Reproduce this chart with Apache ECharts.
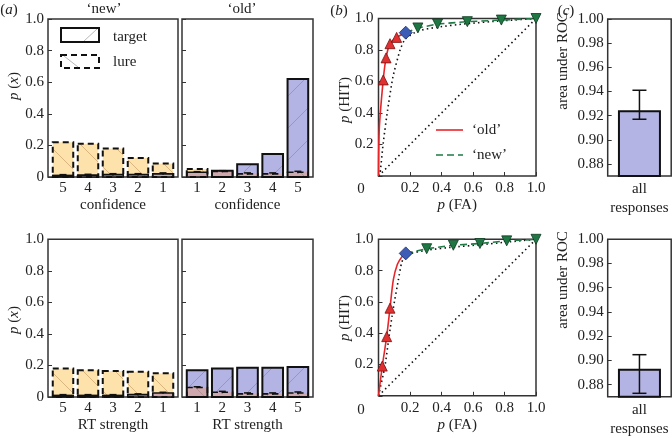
<!DOCTYPE html>
<html><head><meta charset="utf-8">
<script src="https://cdn.jsdelivr.net/npm/echarts@6.0.0/dist/echarts.min.js"></script>
<style>html,body{margin:0;padding:0;background:#fff}#c{width:672px;height:438px}</style>
</head><body><div id="c"></div>
<script>
// ---------------- data ----------------
const newCats = [5, 4, 3, 2, 1];
const oldCats = [1, 2, 3, 4, 5];
// confidence (top row)
const confNewLure   = [0.22, 0.21, 0.18, 0.12, 0.085];
const confNewTarget = [0.01, 0.012, 0.015, 0.015, 0.02];
const confNewErr    = [0.005, 0.005, 0.006, 0.006, 0.006];
const confOldTarget = [0.03, 0.04, 0.08, 0.145, 0.62];
const confOldLure   = [0.05, 0.035, 0.02, 0.02, 0.03];
const confOldErr    = [0.004, 0.005, 0.006, 0.006, 0.006];
// RT strength (bottom row)
const rtNewLure   = [0.18, 0.17, 0.165, 0.16, 0.15];
const rtNewTarget = [0.01, 0.01, 0.01, 0.015, 0.025];
const rtNewErr    = [0.005, 0.005, 0.005, 0.005, 0.005];
const rtOldTarget = [0.17, 0.18, 0.185, 0.185, 0.19];
const rtOldLure   = [0.06, 0.03, 0.02, 0.02, 0.025];
const rtOldErr    = [0.005, 0.006, 0.006, 0.006, 0.007];
// ROC top
const rocTopOldFA   = [0.03, 0.048, 0.073, 0.115];
const rocTopOldHit  = [0.61, 0.75, 0.84, 0.88];
const rocTopMid     = [0.173, 0.91];
const rocTopNewFA   = [0.25, 0.375, 0.564, 0.78, 1.0];
const rocTopNewHit  = [0.94, 0.965, 0.98, 0.99, 1.0];
const rocTopLineFA  = [0, 0.005, 0.03, 0.048, 0.073, 0.115, 0.173];
const rocTopLineHit = [0, 0.3, 0.61, 0.75, 0.84, 0.88, 0.91];
const rocTopModelFA  = [0, 0.01, 0.03, 0.058, 0.092, 0.137, 0.17, 0.25, 0.375, 0.56, 0.78, 1];
const rocTopModelHit = [0, 0.02, 0.21, 0.42, 0.63, 0.80, 0.87, 0.92, 0.945, 0.967, 0.985, 1];
// ROC bottom
const rocBotOldFA   = [0.024, 0.052, 0.073];
const rocBotOldHit  = [0.19, 0.378, 0.56];
const rocBotMid     = [0.173, 0.91];
const rocBotNewFA   = [0.306, 0.475, 0.644, 0.814, 1.0];
const rocBotNewHit  = [0.94, 0.962, 0.973, 0.99, 1.0];
const rocBotLineFA  = [0, 0.024, 0.052, 0.073, 0.094, 0.12, 0.15, 0.173];
const rocBotLineHit = [0, 0.19, 0.378, 0.56, 0.74, 0.84, 0.89, 0.91];
const rocBotModelFA  = [0, 0.041, 0.067, 0.094, 0.126, 0.147, 0.173, 0.306, 0.475, 0.644, 0.814, 1];
const rocBotModelHit = [0, 0.19, 0.38, 0.56, 0.74, 0.85, 0.90, 0.93, 0.95, 0.965, 0.982, 1];
const chanceFA  = [0, 1];
const chanceHit = [0, 1];
// AUC
const aucCats = ['all\nresponses'];
const aucTop = [0.9245], aucTopLow = [0.917], aucTopHigh = [0.941];
const aucBot = [0.8931], aucBotLow = [0.8728], aucBotHigh = [0.9047];
const pTicks = [0, 0.2, 0.4, 0.6, 0.8, 1.0];
const aucTicks = [0.88, 0.90, 0.92, 0.94, 0.96, 0.98, 1.00];

// ---------------- style ----------------
const FONT = 'Liberation Serif';
const TXT = '#222';
const PURPLE = '#b4b4e4', ORANGE = '#fde2ab', OVER = '#cfa8ad';
const PURPLE_H = '#8686bf', ORANGE_H = '#c9a46c', OVER_H = '#a5868e';
const zip = (a, b) => a.map((v, i) => [v, b[i]]);

function hatch(L, T, R, B, dir, color, s) {
  const out = [];
  if (R - L < 1 || B - T < 1) return out;
  if (dir === '/') {
    for (let k = Math.ceil((L + T) / s) * s; k <= R + B; k += s) {
      const x0 = Math.max(L, k - B), x1 = Math.min(R, k - T);
      if (x1 > x0 + 0.5) out.push({type: 'line', shape: {x1: x0, y1: k - x0, x2: x1, y2: k - x1}, style: {stroke: color, lineWidth: 0.7}});
    }
  } else {
    for (let k = Math.ceil((T - R) / s) * s; k <= B - L; k += s) {
      const x0 = Math.max(L, T - k), x1 = Math.min(R, B - k);
      if (x1 > x0 + 0.5) out.push({type: 'line', shape: {x1: x0, y1: x0 + k, x2: x1, y2: x1 + k}, style: {stroke: color, lineWidth: 0.7}});
    }
  }
  return out;
}

function pairRender(params, api) {
  const x = api.value(0), t = api.value(1), l = api.value(2), e = api.value(3);
  const base = api.coord([x, 0]);
  const bw = api.size([0.82, 0])[0];
  const L = base[0] - bw / 2, R = base[0] + bw / 2, B = base[1];
  const yT = api.coord([x, t])[1], yL = api.coord([x, l])[1];
  const tallTarget = t >= l;
  const yTall = Math.min(yT, yL), yShort = Math.max(yT, yL);
  const shortVal = Math.min(t, l);
  const ch = [];
  ch.push({type: 'rect', shape: {x: L, y: yTall, width: R - L, height: B - yTall}, style: {fill: tallTarget ? PURPLE : ORANGE}});
  ch.push(...hatch(L, yTall, R, B, tallTarget ? '/' : '\\', tallTarget ? PURPLE_H : ORANGE_H, 32));
  ch.push({type: 'rect', shape: {x: L, y: yShort, width: R - L, height: B - yShort}, style: {fill: OVER}});
  ch.push(...hatch(L, yShort, R, B, tallTarget ? '\\' : '/', OVER_H, 32));
  ch.push({type: 'rect', shape: {x: L, y: yTall, width: R - L, height: B - yTall}, style: {fill: null, stroke: '#111', lineWidth: 2, lineDash: tallTarget ? null : [6, 4]}});
  ch.push({type: 'rect', shape: {x: L, y: yShort, width: R - L, height: B - yShort}, style: {fill: null, stroke: '#111', lineWidth: 1.6, lineDash: tallTarget ? [6, 4] : null}});
  const eTop = api.coord([x, shortVal + e])[1], eBot = api.coord([x, Math.max(0, shortVal - e)])[1];
  const cx = base[0];
  ch.push({type: 'line', shape: {x1: cx, y1: eTop, x2: cx, y2: eBot}, style: {stroke: '#111', lineWidth: 1.5}});
  ch.push({type: 'line', shape: {x1: cx - 3.5, y1: eTop, x2: cx + 3.5, y2: eTop}, style: {stroke: '#111', lineWidth: 1.5}});
  return {type: 'group', children: ch};
}

function errRender(params, api) {
  const x = api.value(0);
  const top = api.coord([x, api.value(2)]), bot = api.coord([x, api.value(1)]);
  const cx = top[0], w = 7;
  const st = {stroke: '#111', lineWidth: 1.5};
  return {type: 'group', children: [
    {type: 'line', shape: {x1: cx, y1: top[1], x2: cx, y2: bot[1]}, style: st},
    {type: 'line', shape: {x1: cx - w, y1: top[1], x2: cx + w, y2: top[1]}, style: st},
    {type: 'line', shape: {x1: cx - w, y1: bot[1], x2: cx + w, y2: bot[1]}, style: st}
  ]};
}

const lbl = {fontFamily: FONT, fontSize: 15, color: TXT};
const richName = {i: {fontStyle: 'italic', fontFamily: FONT, fontSize: 15, color: TXT}};

const gridBase = {show: true, borderColor: '#333', borderWidth: 1.5, backgroundColor: 'transparent', containLabel: false, outerBoundsMode: 'none'};
const grids = [
  {left: 48, top: 19, width: 130, height: 158},
  {left: 182, top: 19, width: 131, height: 158},
  {left: 378.5, top: 18.5, width: 157.5, height: 157.5},
  {left: 607.7, top: 19, width: 63.5, height: 157},
  {left: 48, top: 239.3, width: 130, height: 157.7},
  {left: 182, top: 239.3, width: 131, height: 157.7},
  {left: 378.5, top: 239.3, width: 157.5, height: 156.5},
  {left: 607.7, top: 239.3, width: 63.5, height: 157.4}
].map(g => Object.assign({}, gridBase, g));

function barX(gi, inverse, name) {
  return {type: 'value', gridIndex: gi, min: 0.4, max: 5.6, inverse: inverse,
    axisLine: {show: false}, axisTick: {show: false}, splitLine: {show: false},
    axisLabel: Object.assign({customValues: [1, 2, 3, 4, 5], margin: 4}, lbl),
    name: name, nameLocation: 'middle', nameGap: 21, nameTextStyle: Object.assign({}, lbl)};
}
function barY(gi, showLabel) {
  return {type: 'value', gridIndex: gi, min: 0, max: 1, interval: 0.2,
    axisLine: {show: false}, splitLine: {show: false},
    axisTick: {show: true, inside: true, length: 4, lineStyle: {color: '#333', width: 1}},
    axisLabel: Object.assign({show: showLabel, margin: 4, formatter: v => v === 0 ? '0' : v.toFixed(1)}, lbl)};
}
function rocX(gi) {
  return {type: 'value', gridIndex: gi, min: 0, max: 1, interval: 0.2,
    axisLine: {show: false}, splitLine: {show: false},
    axisTick: {show: true, inside: true, length: 4, lineStyle: {color: '#333', width: 1}},
    axisLabel: Object.assign({margin: 5, formatter: v => v === 0 ? '' : v.toFixed(1)}, lbl),
    name: '{i|p} (FA)', nameLocation: 'middle', nameGap: 22, nameTextStyle: Object.assign({rich: richName}, lbl)};
}
function rocY(gi) {
  return {type: 'value', gridIndex: gi, min: 0, max: 1, interval: 0.2,
    axisLine: {show: false}, splitLine: {show: false},
    axisTick: {show: true, inside: true, length: 4, lineStyle: {color: '#333', width: 1}},
    axisLabel: Object.assign({margin: 5, formatter: v => v === 0 ? '' : v.toFixed(1)}, lbl)};
}
function aucX(gi) {
  return {type: 'category', gridIndex: gi, data: aucCats,
    axisLine: {show: false}, axisTick: {show: false}, splitLine: {show: false},
    axisLabel: Object.assign({margin: 4, lineHeight: 19}, lbl)};
}
function aucY(gi) {
  return {type: 'value', gridIndex: gi, min: 0.87, max: 1.0,
    axisLine: {show: false}, splitLine: {show: false},
    axisTick: {show: true, inside: true, length: 4, customValues: aucTicks, lineStyle: {color: '#333', width: 1}},
    axisLabel: Object.assign({margin: 4, customValues: aucTicks, formatter: v => v.toFixed(2)}, lbl)};
}

const xAxes = [barX(0, true, 'confidence'), barX(1, false, 'confidence'), rocX(2), aucX(3),
               barX(4, true, 'RT strength'), barX(5, false, 'RT strength'), rocX(6), aucX(7)];
const yAxes = [barY(0, true), barY(1, false), rocY(2), aucY(3),
               barY(4, true), barY(5, false), rocY(6), aucY(7)];

function pairSeries(ai, xs, tgt, lure, err) {
  return {type: 'custom', xAxisIndex: ai, yAxisIndex: ai, renderItem: pairRender, clip: false,
    data: xs.map((x, i) => [x, tgt[i], lure[i], err[i]])};
}
function rocSeries(ai, lineFA, lineHit, oldFA, oldHit, mid, newFA, newHit, modFA, modHit) {
  const dotted = {color: '#111', width: 1.6, type: [1.5, 3.2]};
  return [
    {type: 'line', xAxisIndex: ai, yAxisIndex: ai, data: zip(chanceFA, chanceHit), symbol: 'none', lineStyle: dotted, z: 2},
    {type: 'line', xAxisIndex: ai, yAxisIndex: ai, data: zip(modFA, modHit), symbol: 'none', smooth: 0.2, lineStyle: dotted, z: 2},
    {type: 'line', xAxisIndex: ai, yAxisIndex: ai, data: [mid].concat(zip(newFA, newHit)), symbol: 'none',
      lineStyle: {color: '#1f7a46', width: 1.6, type: [7, 4]}, z: 3},
    {type: 'line', xAxisIndex: ai, yAxisIndex: ai, data: zip(lineFA, lineHit), symbol: 'none', smooth: 0.25,
      lineStyle: {color: '#e8262a', width: 1.6}, z: 3},
    {type: 'scatter', xAxisIndex: ai, yAxisIndex: ai, data: zip(oldFA, oldHit), symbol: 'triangle', symbolSize: 10,
      itemStyle: {color: '#e23030', borderColor: '#7a1010', borderWidth: 0.8, opacity: 1}, z: 5},
    {type: 'scatter', xAxisIndex: ai, yAxisIndex: ai, data: zip(newFA, newHit), symbol: 'triangle', symbolRotate: 180, symbolSize: 10,
      itemStyle: {color: '#1f7844', borderColor: '#0c3a20', borderWidth: 0.8, opacity: 1}, z: 5},
    {type: 'scatter', xAxisIndex: ai, yAxisIndex: ai, data: [mid], symbol: 'diamond', symbolSize: 13,
      itemStyle: {color: '#3d5cb5', borderColor: '#1a2a6a', borderWidth: 0.8, opacity: 1}, z: 6}
  ];
}
function aucSeries(ai, vals, lo, hi) {
  return [
    {type: 'bar', xAxisIndex: ai, yAxisIndex: ai, data: vals, barWidth: 43,
      itemStyle: {color: PURPLE, borderColor: '#111', borderWidth: 2}},
    {type: 'custom', xAxisIndex: ai, yAxisIndex: ai, renderItem: errRender, z: 5,
      data: vals.map((v, i) => [i, lo[i], hi[i]])}
  ];
}

const series = [
  pairSeries(0, newCats, confNewTarget, confNewLure, confNewErr),
  pairSeries(1, oldCats, confOldTarget, confOldLure, confOldErr),
  ...rocSeries(2, rocTopLineFA, rocTopLineHit, rocTopOldFA, rocTopOldHit, rocTopMid, rocTopNewFA, rocTopNewHit, rocTopModelFA, rocTopModelHit),
  ...aucSeries(3, aucTop, aucTopLow, aucTopHigh),
  pairSeries(4, newCats, rtNewTarget, rtNewLure, rtNewErr),
  pairSeries(5, oldCats, rtOldTarget, rtOldLure, rtOldErr),
  ...rocSeries(6, rocBotLineFA, rocBotLineHit, rocBotOldFA, rocBotOldHit, rocBotMid, rocBotNewFA, rocBotNewHit, rocBotModelFA, rocBotModelHit),
  ...aucSeries(7, aucBot, aucBotLow, aucBotHigh)
];

function txt(x, y, text, opts) {
  return Object.assign({type: 'text', x: x, y: y, style: Object.assign({text: text, fill: TXT, font: '15px "' + FONT + '"',
    align: 'center', verticalAlign: 'middle', rich: richName}, (opts && opts.style) || {})}, opts && opts.el || {});
}
function vtxt(x, y, text) {
  return {type: 'text', x: x, y: y, rotation: Math.PI / 2,
    style: {text: text, fill: TXT, font: '15px "' + FONT + '"', align: 'center', verticalAlign: 'middle', rich: richName}};
}
const graphics = [
  txt(9, 10, '({i|a})'), txt(339, 11, '({i|b})'), txt(566, 11, '({i|c})'),
  txt(104, 9, '‘new’'), txt(242, 9, '‘old’'),
  vtxt(14, 86, '{i|p} ({i|x})'), vtxt(14, 320, '{i|p} ({i|x})'),
  vtxt(345, 100, '{i|p} (HIT)'), vtxt(345, 318, '{i|p} (HIT)'),
  vtxt(563, 61, 'area under ROC'), vtxt(563, 280, 'area under ROC'),
  txt(361, 189, '0'), txt(361, 410, '0'),
  // legend (a)
  {type: 'rect', shape: {x: 61, y: 28, width: 38, height: 14}, style: {fill: '#fff', stroke: '#111', lineWidth: 2}},
  {type: 'line', shape: {x1: 84, y1: 41, x2: 97, y2: 29}, style: {stroke: '#999', lineWidth: 0.7}},
  {type: 'rect', shape: {x: 61, y: 55, width: 38, height: 13}, style: {fill: '#fff', stroke: '#111', lineWidth: 2, lineDash: [6, 4]}},
  {type: 'line', shape: {x1: 64, y1: 56, x2: 78, y2: 67}, style: {stroke: '#999', lineWidth: 0.7}},
  txt(113, 37, 'target', {style: {align: 'left'}}),
  txt(113, 62, 'lure', {style: {align: 'left'}}),
  // legend (b)
  {type: 'line', shape: {x1: 436, y1: 130, x2: 463, y2: 130}, style: {stroke: '#e8262a', lineWidth: 1.6}},
  {type: 'line', shape: {x1: 436, y1: 155, x2: 463, y2: 155}, style: {stroke: '#1f7a46', lineWidth: 1.6, lineDash: [7, 4]}},
  txt(472, 130, '‘old’', {style: {align: 'left'}}),
  txt(472, 155, '‘new’', {style: {align: 'left'}})
];

const chart = echarts.init(document.getElementById('c'), null, {renderer: 'canvas'});
chart.setOption({
  animation: false,
  backgroundColor: '#fff',
  textStyle: {fontFamily: FONT},
  grid: grids, xAxis: xAxes, yAxis: yAxes, series: series,
  graphic: {elements: graphics}
});
</script></body></html>
